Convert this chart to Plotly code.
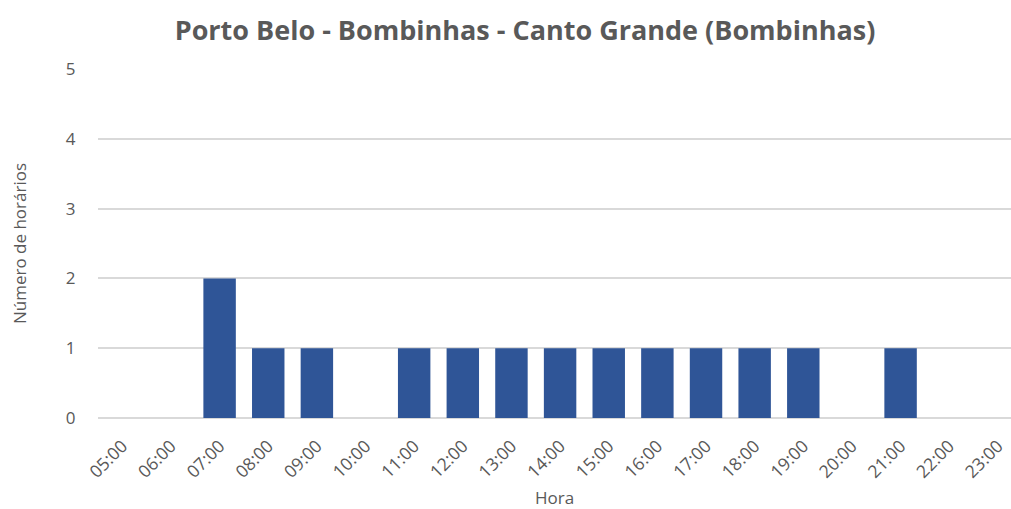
import plotly.graph_objects as go

horas = ["05:00", "06:00", "07:00", "08:00", "09:00", "10:00", "11:00", "12:00",
         "13:00", "14:00", "15:00", "16:00", "17:00", "18:00", "19:00", "20:00",
         "21:00", "22:00", "23:00"]
num_horarios = [0, 0, 2, 1, 1, 0, 1, 1, 1, 1, 1, 1, 1, 1, 1, 0, 1, 0, 0]

FONT = "Open Sans"
GREY = "#595959"

fig = go.Figure()
fig.add_trace(go.Bar(
    x=horas, y=num_horarios,
    marker=dict(color="#2F5597", line=dict(width=0)),
    width=0.667,
))

fig.update_layout(
    width=1011, height=509,
    margin=dict(l=98, r=0, t=69, b=91),
    paper_bgcolor="white", plot_bgcolor="white",
    showlegend=False,
    title=dict(text="<b>Porto Belo - Bombinhas - Canto Grande (Bombinhas)</b>",
               x=525/1011, xref="container", xanchor="center",
               y=1-31/509, yref="container", yanchor="middle",
               font=dict(family=FONT, size=27, color=GREY)),
    font=dict(family=FONT, color=GREY),
)
fig.update_xaxes(
    type="category", range=[-0.5, 18.27],
    tickangle=-45, tickfont=dict(size=17.5, color=GREY),
    showgrid=False, showline=False, ticks="outside", ticklen=10, tickcolor="white",
    title=dict(text="Hora", font=dict(size=17, color=GREY), standoff=12),
)
fig.update_yaxes(
    range=[0, 5], dtick=1,
    showgrid=True, gridcolor="#D9D9D9", gridwidth=1.5,
    zeroline=True, zerolinecolor="#D9D9D9", zerolinewidth=1.5,
    tickfont=dict(size=17, color=GREY), ticks="outside", ticklen=18, tickcolor="white",
    title=dict(text="Número de horários", font=dict(size=17, color=GREY), standoff=34),
)

fig.write_html("out.html")
